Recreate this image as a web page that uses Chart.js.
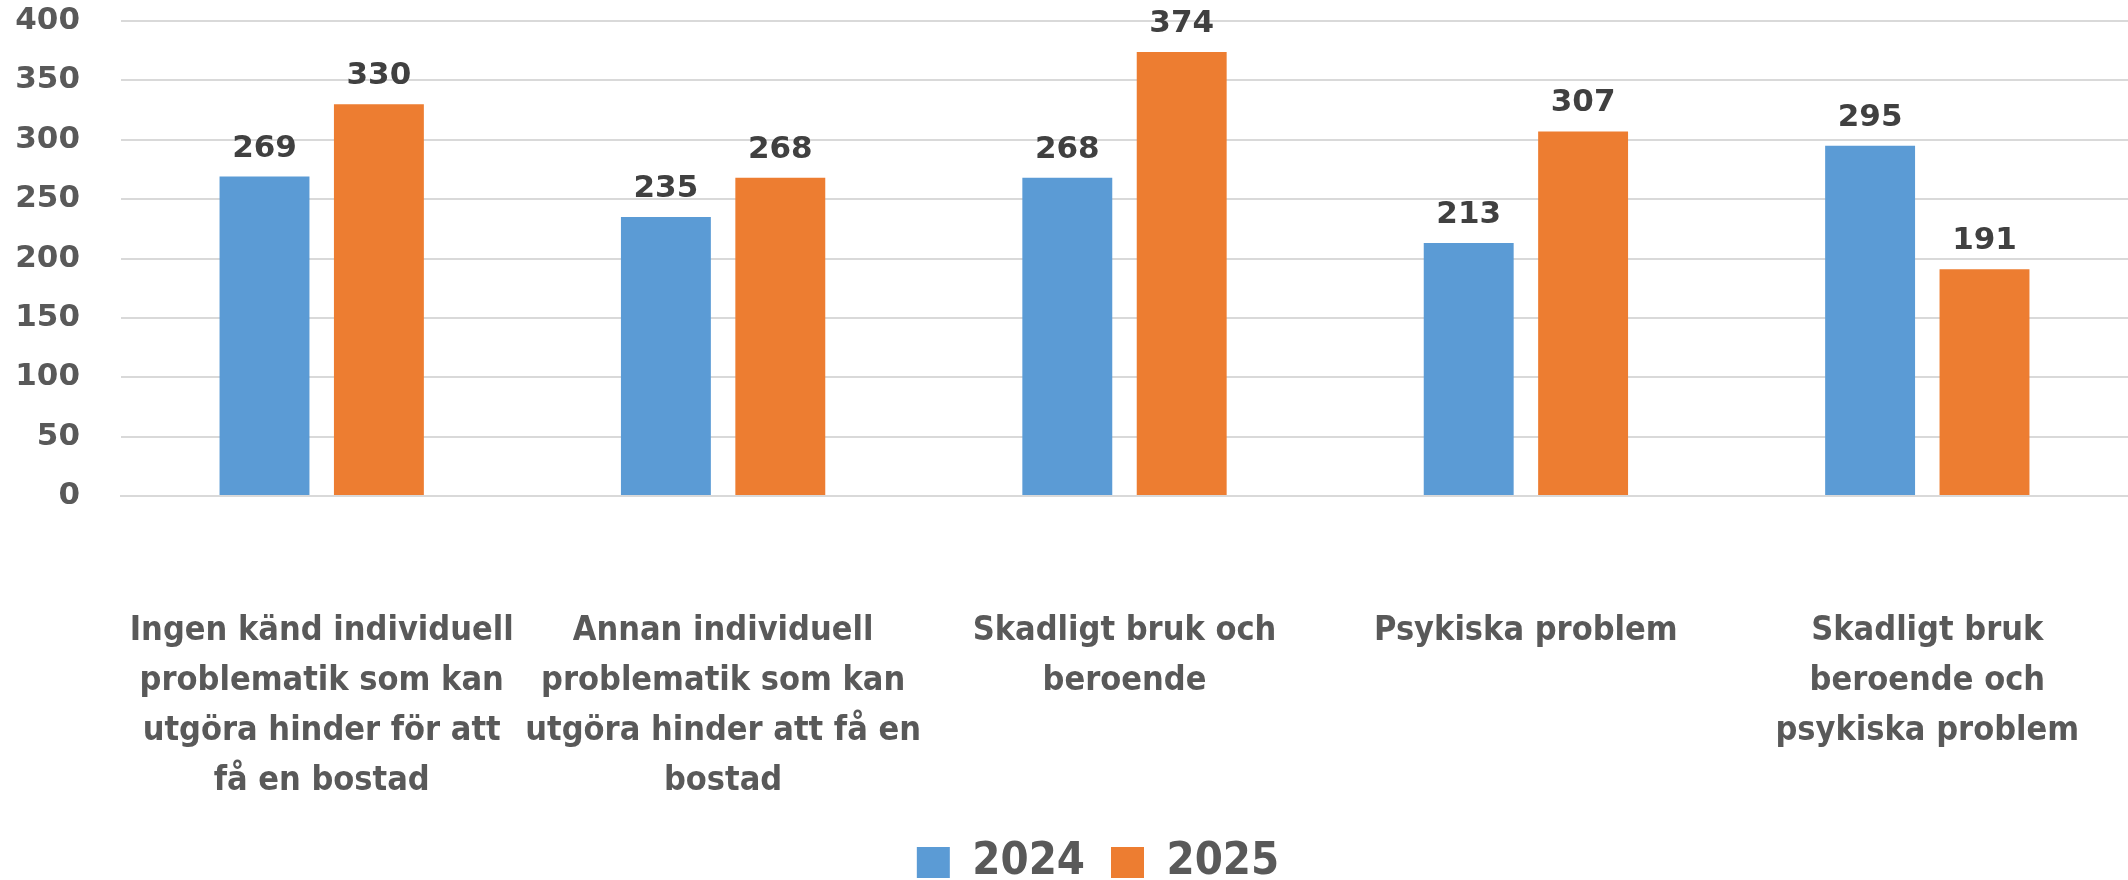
<!DOCTYPE html>
<html>
<head>
<meta charset="utf-8">
<script src="https://cdn.jsdelivr.net/npm/chart.js@4"></script>
<style>
  html, body { margin: 0; padding: 0; background: #fff; }
  #wrap { width: 2128px; height: 880px; }
</style>
</head>
<body>
<div id="wrap"><canvas id="myChart"></canvas></div>
<script>
// data
var categories = [
  ['Ingen känd individuell', 'problematik som kan', 'utgöra hinder för att', 'få en bostad'],
  ['Annan individuell', 'problematik som kan', 'utgöra hinder att få en', 'bostad'],
  ['Skadligt bruk och', 'beroende'],
  ['Psykiska problem'],
  ['Skadligt bruk', 'beroende och', 'psykiska problem']
];
var values2024 = [269, 235, 268, 213, 295];
var values2025 = [330, 268, 374, 307, 191];
var seriesNames = ['2024', '2025'];

var textColor = '#595959';
var narrow = '"DejaVu Sans Condensed", sans-serif';

/* value labels above the bars */
var barLabels = {
  id: 'barLabels',
  afterDatasetsDraw: function(chart) {
    var ctx = chart.ctx;
    ctx.save();
    ctx.font = 'bold 31px "DejaVu Sans"';
    ctx.fillStyle = '#404040';
    ctx.textAlign = 'center';
    ctx.textBaseline = 'alphabetic';
    chart.data.datasets.forEach(function(ds, i) {
      chart.getDatasetMeta(i).data.forEach(function(bar, j) {
        ctx.fillText(ds.data[j], bar.x, bar.y - 20);
      });
    });
    ctx.restore();
  }
};

// legend sits a bit right of centre in the original
var legendShift = {
  id: 'legendShift',
  afterLayout: function(chart) {
    chart.legend.left += 34;
    chart.legend.right += 34;
  }
};

var ctx = document.getElementById('myChart').getContext('2d');
var myChart = new Chart(ctx, {
  type: 'bar',
  data: {
    labels: categories,
    datasets: [{
      label: seriesNames[0],
      data: values2024,
      backgroundColor: '#5B9BD5'
    }, {
      label: seriesNames[1],
      data: values2025,
      backgroundColor: '#ED7D31'
    }]
  },
  options: {
    responsive: true,
    maintainAspectRatio: false,
    animation: false,
    layout: { padding: { top: 21, right: 0, bottom: -15, left: 0 } },
    datasets: {
      bar: { categoryPercentage: 0.57, barPercentage: 0.786 }
    },
    scales: {
      x: {
        grid: { display: false, drawTicks: false },
        border: { display: true, color: '#D9D9D9', width: 2 },
        ticks: {
          color: textColor,
          font: { family: narrow, size: 34, weight: 'bold', lineHeight: 1.47 },
          padding: 110,
          maxRotation: 0,
          autoSkip: false
        },
        afterFit: function(scale) {
          scale.height = 318;
          scale.paddingLeft = 0;
          scale.paddingRight = 0;
        }
      },
      y: {
        min: 0,
        max: 400,
        ticks: {
          stepSize: 50,
          color: textColor,
          font: { family: '"DejaVu Sans"', size: 31, weight: 'bold' },
          padding: 41
        },
        grid: { color: '#D9D9D9', lineWidth: 2, drawTicks: false },
        border: { display: false },
        afterFit: function(scale) {
          scale.width = 121;
          scale.paddingTop = 0;
          scale.paddingBottom = 0;
        }
      }
    },
    plugins: {
      legend: {
        position: 'bottom',
        labels: {
          color: textColor,
          font: { family: narrow, size: 45, weight: 'bold' },
          boxWidth: 33,
          boxHeight: 31,
          padding: 26
        }
      },
      tooltip: { enabled: false }
    }
  },
  plugins: [barLabels, legendShift]
});
</script>
</body>
</html>
